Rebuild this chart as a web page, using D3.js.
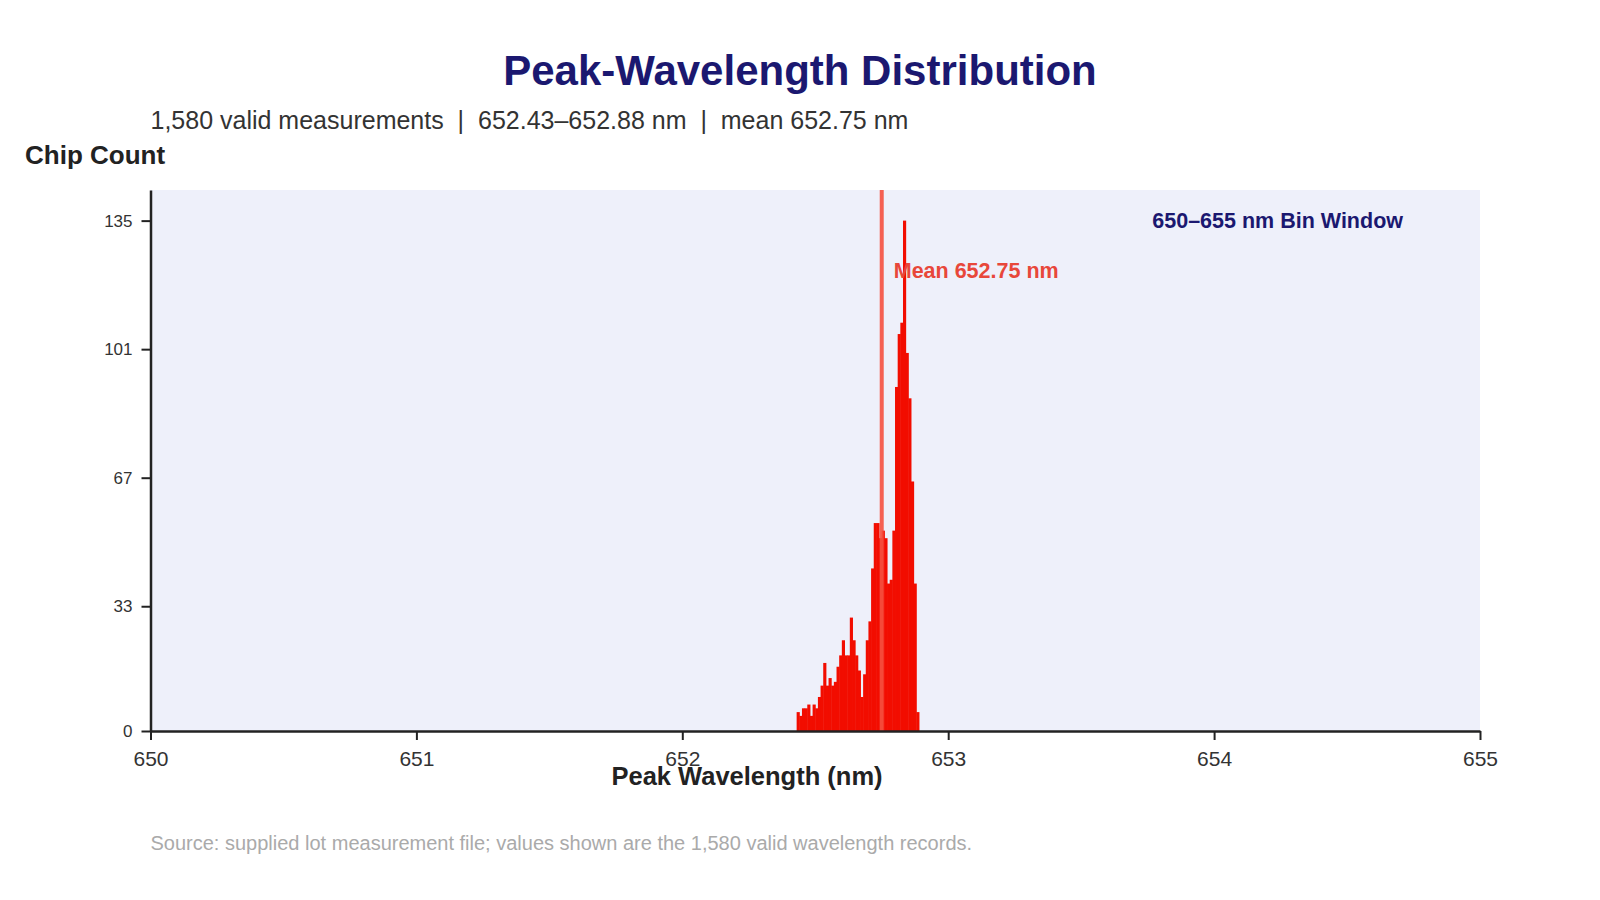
<!DOCTYPE html>
<html>
<head>
<meta charset="utf-8">
<script src="https://cdn.jsdelivr.net/npm/d3@7"></script>
<style>
  body { margin: 0; background: #fff; }
  svg { display: block; font-family: "Liberation Sans", Arial, sans-serif; }
</style>
</head>
<body>
<script>
// histogram bins (lower edge, nm) and chip counts
const binLower = [
  652.43, 652.44, 652.45, 652.46, 652.47, 652.48, 652.49, 652.50, 652.51, 652.52,
  652.53, 652.54, 652.55, 652.56, 652.57, 652.58, 652.59, 652.60, 652.61, 652.62,
  652.63, 652.64, 652.65, 652.66, 652.67, 652.68, 652.69, 652.70, 652.71, 652.72,
  652.73, 652.74, 652.75, 652.76, 652.77, 652.78, 652.79, 652.80, 652.81, 652.82,
  652.83, 652.84, 652.85, 652.86, 652.87, 652.88
];
const binCounts = [
  5, 4, 6, 6, 7, 4, 7, 6, 9, 12,
  18, 12, 14, 12, 13, 17, 20, 24, 20, 20,
  30, 24, 20, 16, 9, 15, 24, 29, 43, 55,
  55, 51, 53, 51, 39, 40, 53, 91, 105, 108,
  135, 100, 88, 66, 39, 5
];
const binWidth = 0.01;
const meanValue = 652.75;
const xTicks = [650, 651, 652, 653, 654, 655];
const yTicks = [0, 33, 67, 101, 135];

const W = 1600, H = 900;
const margin = { top: 190, right: 120, bottom: 169, left: 150.5 };
const plotW = W - margin.left - margin.right;
const plotH = H - margin.top - margin.bottom;

const svg = d3.select("body").append("svg")
  .attr("width", W)
  .attr("height", H);

// title + subtitle
svg.append("text")
  .attr("x", W / 2)
  .attr("y", 85)
  .attr("text-anchor", "middle")
  .style("font-size", "42px")
  .style("font-weight", "bold")
  .style("fill", "#1b1870")
  .text("Peak-Wavelength Distribution");

svg.append("text")
  .attr("x", margin.left)
  .attr("y", 129)
  .style("font-size", "25px")
  .style("fill", "#333")
  .style("white-space", "pre")
  .text("1,580 valid measurements  |  652.43\u2013652.88 nm  |  mean 652.75 nm");

svg.append("text")
  .attr("x", 25)
  .attr("y", 164)
  .style("font-size", "26px")
  .style("font-weight", "bold")
  .style("fill", "#222")
  .text("Chip Count");

const g = svg.append("g")
  .attr("transform", `translate(${margin.left},${margin.top})`);

const x = d3.scaleLinear().domain([650, 655]).range([0, plotW]);
const y = d3.scaleLinear().domain([0, 135 * 1.06]).range([plotH, 0]);

// plot background
g.append("rect")
  .attr("width", plotW)
  .attr("height", plotH)
  .attr("fill", "#eef0fa");

// bars
g.selectAll(".bar")
  .data(binLower.map((v, i) => ({ x0: v, count: binCounts[i] })))
  .enter().append("rect")
  .attr("class", "bar")
  .attr("x", d => x(d.x0))
  .attr("y", d => y(d.count))
  .attr("width", d => x(d.x0 + binWidth) - x(d.x0) + 0.5)
  .attr("height", d => y(0) - y(d.count))
  .attr("fill", "#f20d00");

// mean line
g.append("line")
  .attr("x1", x(meanValue)).attr("x2", x(meanValue))
  .attr("y1", 0).attr("y2", plotH)
  .attr("stroke", "#f5503f")
  .attr("stroke-opacity", 0.9)
  .attr("stroke-width", 4);

g.append("text")
  .attr("x", x(meanValue) + 12)
  .attr("y", 88)
  .style("font-size", "21.5px")
  .style("font-weight", "bold")
  .style("fill", "#e8473a")
  .text("Mean 652.75 nm");

g.append("text")
  .attr("x", 1403 - margin.left)
  .attr("y", 38)
  .attr("text-anchor", "end")
  .style("font-size", "21.5px")
  .style("font-weight", "bold")
  .style("fill", "#1b1870")
  .text("650\u2013655 nm Bin Window");

// axes
const xAxis = g.append("g")
  .attr("transform", `translate(0,${plotH})`)
  .call(d3.axisBottom(x).tickValues(xTicks).tickFormat(d3.format("d")).tickSize(9).tickSizeOuter(0));
xAxis.select(".domain").attr("stroke", "#222").attr("stroke-width", 2.5);
xAxis.selectAll(".tick line").attr("stroke", "#222").attr("stroke-width", 2);
xAxis.selectAll(".tick text")
  .attr("dy", 0)
  .attr("y", 35)
  .style("font-size", "21px")
  .style("fill", "#333");

const yAxis = g.append("g")
  .call(d3.axisLeft(y).tickValues(yTicks).tickFormat(d3.format("d")).tickSize(9).tickSizeOuter(0));
yAxis.select(".domain").attr("stroke", "#222").attr("stroke-width", 2.5);
yAxis.selectAll(".tick line").attr("stroke", "#222").attr("stroke-width", 2);
yAxis.selectAll(".tick text")
  .attr("x", -18)
  .style("font-size", "17px")
  .style("fill", "#333");

// x axis title
svg.append("text")
  .attr("x", 747)
  .attr("y", 785)
  .attr("text-anchor", "middle")
  .style("font-size", "25.5px")
  .style("font-weight", "bold")
  .style("fill", "#222")
  .text("Peak Wavelength (nm)");

// source note
svg.append("text")
  .attr("x", margin.left)
  .attr("y", 850)
  .style("font-size", "20px")
  .style("fill", "#aaa")
  .text("Source: supplied lot measurement file; values shown are the 1,580 valid wavelength records.");
</script>
</body>
</html>
